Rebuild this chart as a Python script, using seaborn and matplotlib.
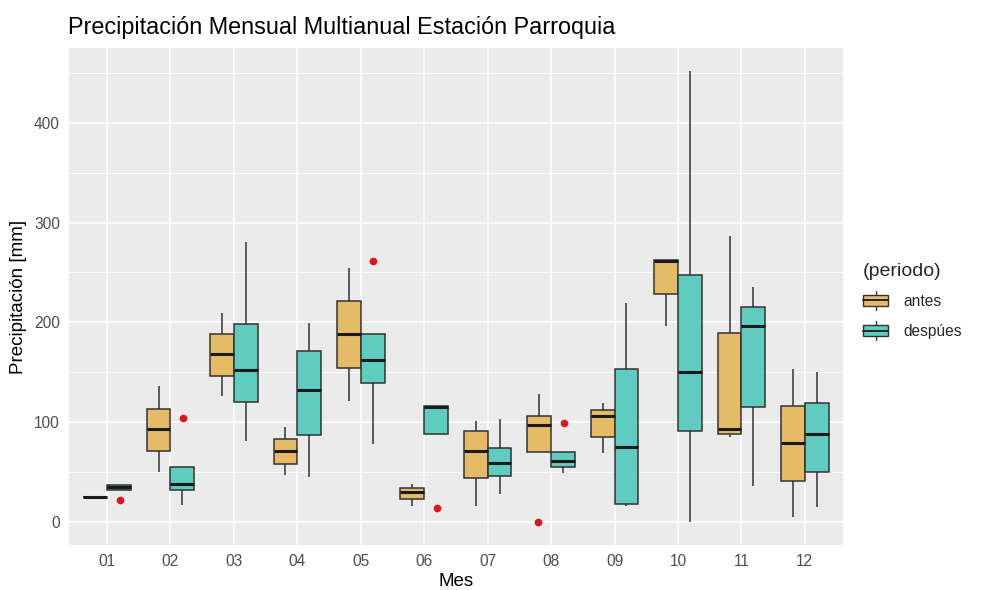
import numpy as np
import pandas as pd
import seaborn as sns
import matplotlib.pyplot as plt
from matplotlib.patches import Patch, Rectangle
from matplotlib.lines import Line2D
from matplotlib.legend_handler import HandlerBase

# meses y resumen de cajas (min, q1, mediana, q3, max)
meses = ["01", "02", "03", "04", "05", "06", "07", "08", "09", "10", "11", "12"]

antes_min = [25, 50, 126, 47, 121, 16, 16, 70, 69, 196, 85, 5]
antes_q1 = [25, 71, 146, 58, 154, 23, 44, 70, 85, 228, 88, 41]
antes_med = [25, 93, 168, 71, 188, 30, 71, 97, 106, 261, 93, 79]
antes_q3 = [25, 113, 188, 83, 221, 34, 91, 106, 112, 262, 189, 116]
antes_max = [25, 136, 209, 95, 254, 38, 101, 128, 119, 262, 286, 153]

desp_min = [32, 17, 81, 45, 78, 88, 28, 49, 16, 0, 36, 15]
desp_q1 = [32, 32, 120, 87, 139, 88, 46, 55, 18, 91, 115, 50]
desp_med = [35, 38, 152, 132, 162, 115, 59, 61, 75, 150, 196, 88]
desp_q3 = [37, 55, 198, 171, 188, 116, 74, 70, 153, 247, 215, 119]
desp_max = [37, 55, 280, 199, 188, 116, 103, 70, 219, 452, 235, 150]

# valores atipicos (puntos rojos)
out_mes = ["01", "02", "05", "06", "08", "08"]
out_periodo = ["despúes", "despúes", "despúes", "despúes", "antes", "despúes"]
out_valor = [22, 104, 261, 14, 0, 99]

# tabla larga: con 5 valores los percentiles 25/50/75 caen justo en q1/med/q3
rows = []
for i, m in enumerate(meses):
    for v in [antes_min[i], antes_q1[i], antes_med[i], antes_q3[i], antes_max[i]]:
        rows.append((m, "antes", v))
    for v in [desp_min[i], desp_q1[i], desp_med[i], desp_q3[i], desp_max[i]]:
        rows.append((m, "despúes", v))
df = pd.DataFrame(rows, columns=["Mes", "periodo", "valor"])
out = pd.DataFrame({"Mes": out_mes, "periodo": out_periodo, "valor": out_valor})

sns.set_theme(style="darkgrid", rc={
    "axes.facecolor": "#EBEBEB",
    "grid.color": "white",
    "axes.edgecolor": "#EBEBEB",
})
plt.rcParams["font.family"] = ["Liberation Sans", "DejaVu Sans"]

colores = {"antes": "#E6BB67", "despúes": "#5ECDC0"}
borde = "#333333"


# glifo de caja para la leyenda, estilo ggplot
class BoxHandler(HandlerBase):
    def create_artists(self, legend, orig_handle, xd, yd, w, h, fontsize, trans):
        x0, y0 = -xd, -yd
        rect = Rectangle((x0, y0 + h * 0.15), w, h * 0.7,
                         facecolor=orig_handle.get_facecolor(), edgecolor=borde,
                         linewidth=1.0, transform=trans)
        med = Line2D([x0, x0 + w], [y0 + h / 2] * 2, color="#1a1a1a", lw=1.3, transform=trans)
        w1 = Line2D([x0 + w / 2] * 2, [y0 - h * 0.1, y0 + h * 0.15], color=borde, lw=1.0, transform=trans)
        w2 = Line2D([x0 + w / 2] * 2, [y0 + h * 0.85, y0 + h * 1.1], color=borde, lw=1.0, transform=trans)
        return [w1, w2, rect, med]


fig = plt.figure(figsize=(9.81, 5.9), dpi=100)
ax = fig.add_axes([0.0703, 0.0763, 0.7890, 0.8424])

sns.boxplot(data=df, x="Mes", y="valor", hue="periodo", order=meses,
            hue_order=["antes", "despúes"], palette=colores, saturation=1,
            whis=np.inf, width=0.75, gap=0, linecolor=borde, linewidth=1.1,
            showcaps=False, showfliers=False, legend=False,
            medianprops={"linewidth": 2.2, "color": "#1a1a1a"}, ax=ax)
sns.stripplot(data=out, x="Mes", y="valor", hue="periodo", order=meses,
              hue_order=["antes", "despúes"], dodge=True, jitter=False,
              palette={"antes": "#E0141E", "despúes": "#E0141E"}, size=5.5,
              linewidth=0, legend=False, ax=ax)

ax.set_xlim(-0.6, 11.6)
ax.set_ylim(-22.6, 474.6)
ax.set_yticks([0, 100, 200, 300, 400])
ax.set_yticks([50, 150, 250, 350, 450], minor=True)
ax.grid(which="major", color="white", linewidth=1.1)
ax.grid(which="minor", axis="y", color="white", linewidth=0.55)
ax.tick_params(axis="both", which="major", length=3.5, width=0.9, color=borde,
               labelsize=11.2, labelcolor="#4D4D4D", pad=3)
ax.tick_params(which="minor", length=0)
for s in ax.spines.values():
    s.set_visible(False)

ax.set_xlabel("Mes", fontsize=13.5, color="black", labelpad=3)
ax.set_ylabel("Precipitación [mm]", fontsize=13.5, color="black", labelpad=5)
fig.text(0.0693, 0.942, "Precipitación Mensual Multianual Estación Parroquia",
         fontsize=16.8, color="black", ha="left", va="baseline")

handles = [Patch(facecolor=colores["antes"]), Patch(facecolor=colores["despúes"])]
leg = ax.legend(handles, ["antes", "despúes"], handler_map={Patch: BoxHandler()},
                loc="center left", bbox_to_anchor=(0.872, 0.49),
                bbox_transform=fig.transFigure, frameon=False, borderpad=0,
                title="(periodo)", title_fontsize=14, fontsize=11.2,
                handlelength=1.6, handleheight=1.2, labelspacing=0.9,
                handletextpad=1.0)
leg._legend_box.align = "left"
leg._legend_box.sep = 9

fig.savefig("out.png", dpi=100)
